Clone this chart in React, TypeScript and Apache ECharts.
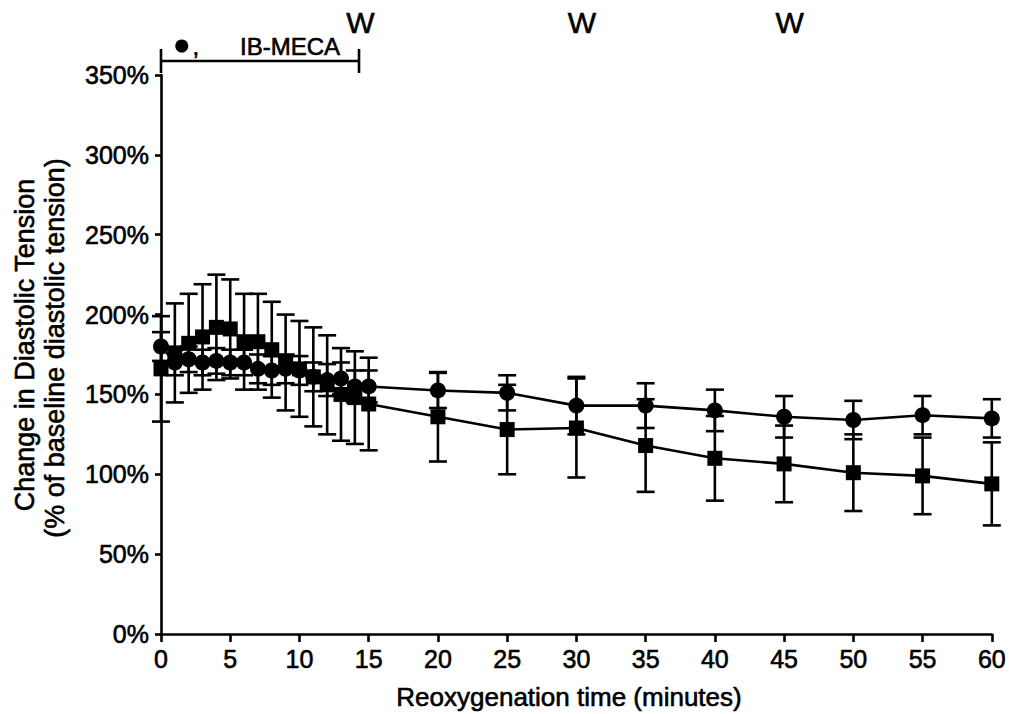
import React, { useEffect, useRef } from "react";
import * as echarts from "echarts";

const times = [0, 1, 2, 3, 4, 5, 6, 7, 8, 9, 10, 11, 12, 13, 14, 15, 20, 25, 30, 35, 40, 45, 50, 55, 60];
const circleMean = [180, 170, 172, 170, 171, 170, 170, 166, 165, 166, 165, 161, 159, 160, 155, 155, 152.5, 151, 143, 143, 140, 136, 134, 137, 135];
const circleSE = [9, 8, 8, 8, 8, 8, 8, 9, 9, 9, 9, 9, 10, 10, 10, 10, 11, 11, 18, 14, 13, 13, 12, 12, 12];
const squareMean = [166, 176, 182, 186, 192, 191, 183, 183, 178, 170, 166, 161, 156, 150, 148, 144, 136, 128, 129, 118, 110, 106.5, 101, 99, 94];
const squareSE = [33, 31, 31, 33, 33, 31, 30, 30, 30, 30, 30, 31, 31, 29, 29, 29, 28, 28, 31, 29, 26.5, 24, 24, 24, 26];

const xTicks = { min: 0, max: 60, interval: 5 };
const yTicks = { min: 0, max: 350, interval: 50 };

const washTimes = [14.4, 30.4, 45.4];
const drugStart = 0;
const drugEnd = 14.3;
const drugDotTime = 1.5;

const FONT = "'Liberation Sans', Arial, sans-serif";
const TB = 0.6;

function errData(means: number[], se: number[]) {
  return times.map((t, i) => [t, means[i] - se[i], means[i] + se[i]]);
}

function errRender(params: any, api: any) {
  const x = api.value(0);
  const lo = api.value(1);
  const hi = api.value(2);
  const pHi = api.coord([x, hi]);
  const pLo = api.coord([x, lo]);
  const w = 9;
  const st = { stroke: "#000", lineWidth: 2.6 };
  return {
    type: "group",
    children: [
      { type: "line", shape: { x1: pHi[0], y1: pHi[1], x2: pLo[0], y2: pLo[1] }, style: st },
      { type: "line", shape: { x1: pHi[0] - w, y1: pHi[1], x2: pHi[0] + w, y2: pHi[1] }, style: st },
      { type: "line", shape: { x1: pLo[0] - w, y1: pLo[1], x2: pLo[0] + w, y2: pLo[1] }, style: st },
    ],
  };
}

function txt(x: number, y: number, text: string, size: number, rotation = 0) {
  return {
    type: "text",
    x,
    y,
    rotation,
    style: {
      text,
      font: `${size}px ${FONT}`,
      fill: "#000",
      stroke: "#000",
      lineWidth: TB,
      align: "center",
      verticalAlign: "middle",
    },
  };
}

export default function App() {
  const ref = useRef<HTMLDivElement>(null);
  useEffect(() => {
    document.body.style.margin = "0";
    const chart = echarts.init(ref.current!, null, { renderer: "svg" });
    const axisLine = { show: true, lineStyle: { color: "#000", width: 2.6 } };
    const labelStyle = {
      color: "#000",
      fontSize: 25,
      fontFamily: FONT,
      margin: 12,
      textBorderColor: "#000",
      textBorderWidth: TB,
    };
    chart.setOption({
      animation: false,
      backgroundColor: "#fff",
      grid: { left: 161, right: 16, top: 75, bottom: 80, containLabel: false },
      xAxis: {
        type: "value",
        min: xTicks.min,
        max: xTicks.max,
        interval: xTicks.interval,
        axisLine,
        axisTick: { show: true, length: 8, lineStyle: { color: "#000", width: 2.6 } },
        axisLabel: { ...labelStyle },
        splitLine: { show: false },
      },
      yAxis: {
        type: "value",
        min: yTicks.min,
        max: yTicks.max,
        interval: yTicks.interval,
        axisLine,
        axisTick: { show: true, length: 6, lineStyle: { color: "#000", width: 2.6 } },
        axisLabel: { ...labelStyle, formatter: "{value}%" },
        splitLine: { show: false },
      },
      series: [
        {
          type: "custom",
          renderItem: errRender,
          data: errData(squareMean, squareSE),
          encode: { x: 0, y: [1, 2] },
          z: 1,
          silent: true,
        },
        {
          type: "custom",
          renderItem: errRender,
          data: errData(circleMean, circleSE),
          encode: { x: 0, y: [1, 2] },
          z: 1,
          silent: true,
        },
        {
          type: "line",
          data: times.map((t, i) => [t, squareMean[i]]),
          symbol: "rect",
          symbolSize: 15,
          lineStyle: { color: "#000", width: 2.6 },
          itemStyle: { color: "#000" },
          z: 3,
        },
        {
          type: "line",
          data: times.map((t, i) => [t, circleMean[i]]),
          symbol: "circle",
          symbolSize: 16,
          lineStyle: { color: "#000", width: 2.6 },
          itemStyle: { color: "#000" },
          z: 3,
        },
      ],
    });

    const px = (t: number) => chart.convertToPixel({ xAxisIndex: 0 }, t) as number;
    const x0 = px(drugStart);
    const x1 = px(drugEnd);
    const st = { stroke: "#000", lineWidth: 2.6 };
    chart.setOption({
      graphic: [
        { type: "line", shape: { x1: x0, y1: 61, x2: x1, y2: 61 }, style: st },
        { type: "line", shape: { x1: x0, y1: 49, x2: x0, y2: 73 }, style: st },
        { type: "line", shape: { x1: x1, y1: 49, x2: x1, y2: 73 }, style: st },
        { type: "circle", shape: { cx: px(drugDotTime), cy: 46, r: 6.5 }, style: { fill: "#000" } },
        txt(px(drugDotTime) + 14, 46, ",", 24),
        txt(290, 46, "IB-MECA", 24),
        ...washTimes.map((t) => txt(px(t), 22, "W", 30)),
        txt(569, 697, "Reoxygenation time (minutes)", 26),
        txt(25, 345, "Change in Diastolic Tension", 27, Math.PI / 2),
        txt(55, 348, "(% of baseline diastolic tension)", 27, Math.PI / 2),
      ],
    });
    return () => chart.dispose();
  }, []);
  return <div ref={ref} style={{ width: 1009, height: 714 }} />;
}
